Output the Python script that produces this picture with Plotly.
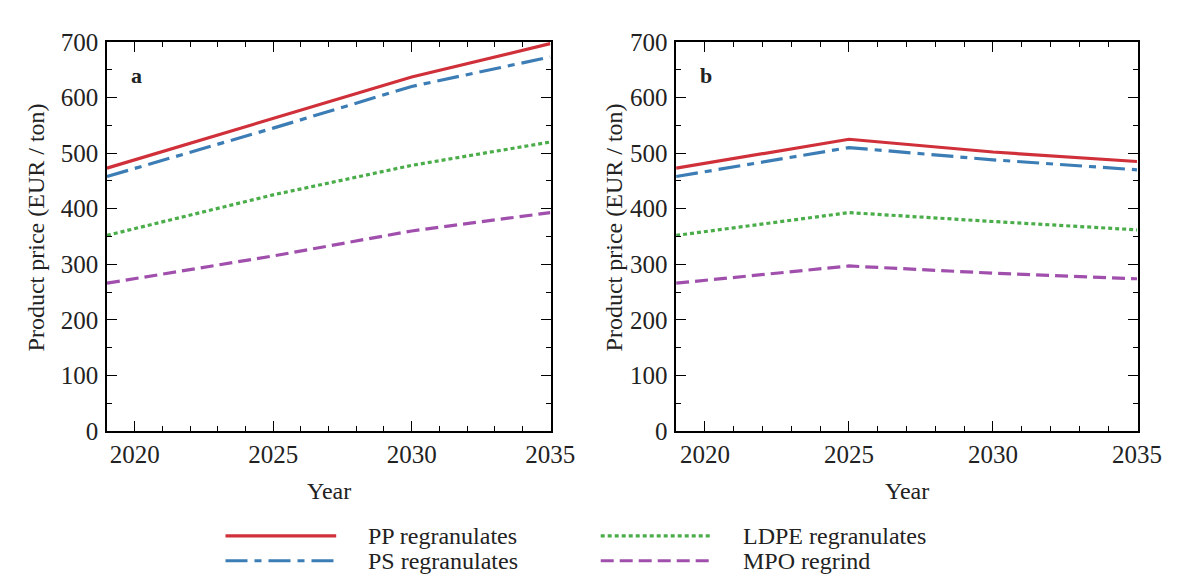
import plotly.graph_objects as go

years = [2019, 2025, 2030, 2035]

# Panel a
pp_a = [473, 563, 637, 697]
ps_a = [458, 545, 620, 673]
ldpe_a = [352, 425, 478, 520]
mpo_a = [266, 315, 360, 393]

# Panel b
pp_b = [473, 525, 502, 485]
ps_b = [458, 510, 488, 470]
ldpe_b = [352, 393, 377, 362]
mpo_b = [266, 297, 284, 274]

names = ["PP regranulates", "PS regranulates", "LDPE regranulates", "MPO regrind"]
colors = ["#d0303a", "#3b7db4", "#4aad4a", "#a050ac"]
dashes = ["solid", "22px,7px,7px,7px", "4px,3px", "13px,6px"]

W, H = 1181, 582
FONT = "Liberation Serif, Times New Roman, serif"

fig = go.Figure()
series_a = [pp_a, ps_a, ldpe_a, mpo_a]
series_b = [pp_b, ps_b, ldpe_b, mpo_b]
for i in range(4):
    fig.add_trace(go.Scatter(x=years, y=series_a[i], mode="lines", name=names[i],
                             line=dict(color=colors[i], width=3.2, dash=dashes[i]),
                             xaxis="x", yaxis="y", showlegend=False))
    fig.add_trace(go.Scatter(x=years, y=series_b[i], mode="lines", name=names[i],
                             line=dict(color=colors[i], width=3.2, dash=dashes[i]),
                             xaxis="x2", yaxis="y2", showlegend=False))

def px(x):
    return x / W

def py(y):
    return 1 - y / H

xdom_a = [px(101), px(554)]
xdom_b = [px(682), px(1153)]
ydom = [py(430), py(22)]

axis_common = dict(
    showline=True, linecolor="black", linewidth=1.5, mirror="ticks",
    ticks="inside", ticklen=10, tickwidth=1.3, tickcolor="black",
    showgrid=False, zeroline=False,
    tickfont=dict(family=FONT, size=25, color="#222"),
)

xax = dict(axis_common, range=[2019, 2035.02], tick0=2020, dtick=5,
           minor=dict(dtick=1, tick0=2020, ticks="inside", ticklen=5, tickcolor="black", tickwidth=1.2, showgrid=False))
yax = dict(axis_common, range=[0, 700], tick0=0, dtick=100, ticklabelstandoff=2,
           minor=dict(dtick=50, ticks="inside", ticklen=5, tickcolor="black", tickwidth=1.2, showgrid=False))

fig.update_layout(
    width=W, height=H,
    font=dict(family=FONT, color="#222"),
    margin=dict(l=0, r=0, t=0, b=0),
    paper_bgcolor="white", plot_bgcolor="white",
    xaxis=dict(xax, domain=xdom_a, anchor="y"),
    yaxis=dict(yax, domain=ydom, anchor="x"),
    xaxis2=dict(xax, domain=xdom_b, anchor="y2"),
    yaxis2=dict(yax, domain=ydom, anchor="x2"),
    showlegend=False,
)

annots = []
txt = dict(family=FONT, size=24, color="#222")
legtxt = dict(family=FONT, size=24, color="#222")
# axis titles
annots.append(dict(x=px(29), y=py(216), xref="paper", yref="paper", text="Product price (EUR / ton)",
                   textangle=-90, showarrow=False, font=txt, xanchor="center", yanchor="middle"))
annots.append(dict(x=px(619), y=py(216), xref="paper", yref="paper", text="Product price (EUR / ton)",
                   textangle=-90, showarrow=False, font=txt, xanchor="center", yanchor="middle"))
annots.append(dict(x=px(328), y=py(493), xref="paper", yref="paper", text="Year",
                   showarrow=False, font=txt, xanchor="center", yanchor="middle"))
annots.append(dict(x=px(918), y=py(493), xref="paper", yref="paper", text="Year",
                   showarrow=False, font=txt, xanchor="center", yanchor="middle"))
# panel labels
annots.append(dict(x=px(131), y=py(57), xref="paper", yref="paper", text="<b>a</b>",
                   showarrow=False, font=dict(family=FONT, size=22, color="#222"), xanchor="center", yanchor="middle"))
annots.append(dict(x=px(712), y=py(57), xref="paper", yref="paper", text="<b>b</b>",
                   showarrow=False, font=dict(family=FONT, size=22, color="#222"), xanchor="center", yanchor="middle"))

# manual legend
shapes = []
leg = [(0, 222, 335, 540, 365), (1, 222, 335, 566, 365), (2, 605, 718, 540, 748), (3, 605, 718, 566, 748)]
for i, x0, x1, yy, tx in leg:
    shapes.append(dict(type="line", xref="paper", yref="paper", x0=px(x0), x1=px(x1), y0=py(yy), y1=py(yy),
                       line=dict(color=colors[i], width=3.2, dash=dashes[i])))
    annots.append(dict(x=px(tx), y=py(yy), xref="paper", yref="paper", text=names[i], showarrow=False,
                       font=legtxt, xanchor="left", yanchor="middle"))

fig.update_layout(annotations=annots, shapes=shapes)
fig.write_html("out.html")
